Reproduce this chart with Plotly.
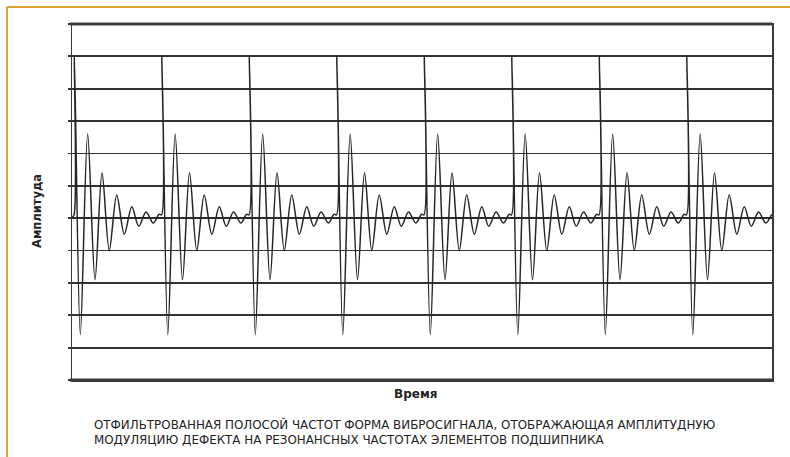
import plotly.graph_objects as go

# ---- data ----
spike_times = [2.3, 102.3, 202.3, 302.3, 402.3, 502.3, 602.3, 702.3]
cycle_offsets = [0.0, 0.4, 7.2, 15.6, 24.0, 32.0, 40.3, 48.8, 57.5, 66.0, 74.0, 82.3, 90.6, 97.3]
cycle_values = [0.1, 5.0, -3.6, 2.6, -1.9, 1.4, -1.0, 0.72, -0.5, 0.35, -0.25, 0.19, -0.15, 0.12]
start_time = [0.0]
start_value = [0.02]

y_ticks = list(range(-5, 7))
x_range = [0, 800]
y_range = [-5, 6]

y_label = "Амплитуда"
x_label = "Время"
caption_lines = [
    "ОТФИЛЬТРОВАННАЯ ПОЛОСОЙ ЧАСТОТ ФОРМА ВИБРОСИГНАЛА, ОТОБРАЖАЮЩАЯ АМПЛИТУДНУЮ",
    "МОДУЛЯЦИЮ ДЕФЕКТА НА РЕЗОНАНСНЫХ ЧАСТОТАХ ЭЛЕМЕНТОВ ПОДШИПНИКА",
]

# ---- build trace points ----
xs = list(start_time)
ys = list(start_value)
for s in spike_times:
    for o, v in zip(cycle_offsets, cycle_values):
        xs.append(s + o)
        ys.append(v)

W, H = 790, 457
L, R, T, B = 72, 18, 24, 77
pw, ph = W - L - R, H - T - B

def px2paper_x(px):
    return (px - L) / pw

def px2paper_y(py):
    return (H - B - py) / ph

fig = go.Figure()
fig.add_trace(go.Scatter(
    x=xs, y=ys, mode="lines",
    line=dict(color="#262626", width=1.5, shape="spline", smoothing=0.9),
    hoverinfo="skip", showlegend=False,
))

shapes = [
    dict(type="line", xref="paper", yref="paper", x0=-0.003, x1=1.0, y0=1, y1=1,
         line=dict(color="#3a3a3a", width=3)),
    dict(type="line", xref="paper", yref="paper", x0=-0.003, x1=1.0, y0=0, y1=0,
         line=dict(color="#3a3a3a", width=3)),
    dict(type="line", xref="paper", yref="paper",
         x0=px2paper_x(7), x1=px2paper_x(800), y0=px2paper_y(7), y1=px2paper_y(7),
         line=dict(color="#DFA22E", width=2)),
    dict(type="line", xref="paper", yref="paper",
         x0=px2paper_x(7), x1=px2paper_x(7), y0=px2paper_y(7), y1=px2paper_y(470),
         line=dict(color="#DFA22E", width=2)),
]

annotations = [
    dict(text=f"<b>{y_label}</b>", xref="paper", yref="paper",
         x=px2paper_x(37), y=px2paper_y(211), textangle=-90, showarrow=False,
         font=dict(family="DejaVu Sans", size=11.5, color="#222"),
         xanchor="center", yanchor="middle"),
    dict(text=f"<b>{x_label}</b>", xref="paper", yref="paper",
         x=px2paper_x(415), y=px2paper_y(394), showarrow=False,
         font=dict(family="DejaVu Sans", size=12, color="#222"),
         xanchor="center", yanchor="middle"),
    dict(text="<br>".join(caption_lines), xref="paper", yref="paper",
         x=px2paper_x(92), y=px2paper_y(432), showarrow=False, align="left",
         font=dict(family="DejaVu Sans", size=11.9, color="#222"),
         xanchor="left", yanchor="middle"),
]

fig.update_layout(
    width=W, height=H,
    margin=dict(l=L, r=R, t=T, b=B, pad=0),
    paper_bgcolor="white", plot_bgcolor="white",
    shapes=shapes, annotations=annotations,
    xaxis=dict(range=x_range, showgrid=False, zeroline=False, showticklabels=False,
               ticks="", showline=True, linecolor="#3a3a3a", linewidth=1.5, mirror=True),
    yaxis=dict(range=y_range, tickvals=y_ticks, showticklabels=False,
               showgrid=True, gridcolor="#333333", gridwidth=1.8,
               zeroline=True, zerolinecolor="#2a2a2a", zerolinewidth=1.8,
               ticks="outside", ticklen=3, tickcolor="#333333", tickwidth=1.8,
               showline=True, linecolor="#3a3a3a", linewidth=1.5, mirror=True),
)

fig.write_html(
    "out.html",
    config={"displayModeBar": False, "staticPlot": True},
    post_script="document.body.style.margin='0';document.body.style.overflow='hidden';",
)
